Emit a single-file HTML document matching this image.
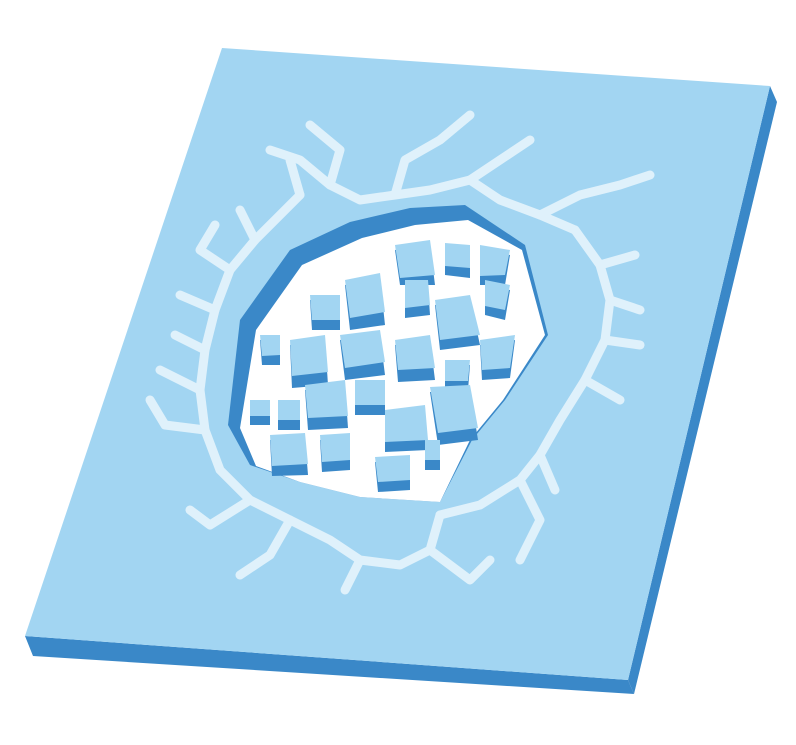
<!DOCTYPE html>
<html><head><meta charset="utf-8"><style>
html,body{margin:0;padding:0;background:#fff;width:796px;height:745px;overflow:hidden}
</style></head><body>
<svg width="796" height="745" viewBox="0 0 796 745">
<g>
  <polygon points="770,86 777,102 634,694 628,680" fill="#3a88c8"/>
  <polygon points="25,636 33,656 634,694 628,680" fill="#3a88c8"/>
  <polygon points="222,48 770,86 628,680 25,636" fill="#a2d5f2"/>
</g>
<g fill="none" stroke="#dff1fb" stroke-width="9" stroke-linecap="round" stroke-linejoin="round">
  <polyline points="270,150 300,160 330,185 360,200 395,195 430,190 470,180 500,200 540,215 575,230"/>
  <polyline points="330,185 340,150 310,125"/>
  <polyline points="395,195 405,160 440,140 470,115"/>
  <polyline points="470,180 500,160 530,140"/>
  <polyline points="540,215 580,195 620,185 650,175"/>
  <polyline points="575,230 600,265 610,300 605,340 585,380 560,420 540,455 520,480 480,505 440,515"/>
  <polyline points="600,265 635,255"/>
  <polyline points="610,300 640,310"/>
  <polyline points="605,340 640,345"/>
  <polyline points="585,380 620,400"/>
  <polyline points="540,455 555,490"/>
  <polyline points="520,480 540,520 520,560"/>
  <polyline points="440,515 430,550 400,565 360,560 330,540 290,520 250,500 220,470 205,430 200,390 205,350 215,310 230,270 255,240 280,215 300,195"/>
  <polyline points="360,560 345,590"/>
  <polyline points="430,550 470,580 490,560"/>
  <polyline points="290,520 270,555 240,575"/>
  <polyline points="250,500 210,525 190,510"/>
  <polyline points="205,430 165,425 150,400"/>
  <polyline points="200,390 160,370"/>
  <polyline points="205,350 175,335"/>
  <polyline points="215,310 180,295"/>
  <polyline points="230,270 200,250 215,225"/>
  <polyline points="255,240 240,210"/>
  <polyline points="300,195 290,160"/>
</g>
<g>
  <polygon points="228,425 240,320 290,250 350,222 410,208 465,205 525,245 548,335 505,400 472,440 440,502 360,497 300,482 250,465" fill="#3a88c8"/>
  <polygon points="240,428 256,330 302,265 362,238 415,225 468,220 522,250 545,335 503,400 470,440 440,502 360,497 300,482 256,466" fill="#ffffff"/>
</g>
<g>
  <g fill="#3a88c8">
    <polygon points="395,250 430,245 435,285 400,285"/><polygon points="445,248 470,250 470,278 445,275"/>
    <polygon points="480,250 510,255 505,285 480,285"/><polygon points="345,285 380,278 385,325 350,330"/>
    <polygon points="405,285 428,285 430,315 405,318"/><polygon points="485,285 510,290 505,320 485,315"/>
    <polygon points="310,300 340,300 340,330 312,330"/><polygon points="435,305 470,300 480,345 440,350"/>
    <polygon points="290,345 325,340 328,385 292,388"/><polygon points="340,340 380,335 385,375 345,380"/>
    <polygon points="395,345 430,340 435,380 398,382"/><polygon points="480,345 515,340 510,378 482,380"/>
    <polygon points="260,340 280,340 280,365 262,365"/><polygon points="445,365 470,365 468,390 445,390"/>
    <polygon points="305,390 345,385 348,428 308,430"/><polygon points="355,385 385,385 385,415 355,415"/>
    <polygon points="430,392 470,390 478,440 438,445"/><polygon points="250,405 270,405 270,425 250,425"/>
    <polygon points="278,405 300,405 300,430 278,430"/><polygon points="385,415 425,410 428,450 385,452"/>
    <polygon points="270,440 305,438 308,475 272,476"/><polygon points="320,440 350,438 350,470 322,472"/>
    <polygon points="375,462 410,460 410,490 378,492"/><polygon points="425,445 440,445 440,470 425,470"/>
  </g>
  <g fill="#a2d5f2">
    <polygon points="395,245 430,240 435,275 400,278"/><polygon points="445,243 470,245 470,268 445,266"/>
    <polygon points="480,245 510,250 505,275 480,276"/><polygon points="345,280 380,273 385,312 350,318"/>
    <polygon points="405,280 428,280 430,305 405,308"/><polygon points="485,280 510,285 505,310 485,306"/>
    <polygon points="310,295 340,295 340,320 312,320"/><polygon points="435,300 470,295 480,335 440,340"/>
    <polygon points="290,340 325,335 328,372 292,376"/><polygon points="340,335 380,330 385,362 345,368"/>
    <polygon points="395,340 430,335 435,368 398,370"/><polygon points="480,340 515,335 510,368 482,370"/>
    <polygon points="260,335 280,335 280,355 262,356"/><polygon points="445,360 470,360 468,381 445,381"/>
    <polygon points="305,385 345,380 348,416 308,418"/><polygon points="355,380 385,380 385,405 355,405"/>
    <polygon points="430,387 470,385 478,428 438,433"/><polygon points="250,400 270,400 270,416 250,416"/>
    <polygon points="278,400 300,400 300,420 278,420"/><polygon points="385,410 425,405 428,440 385,442"/>
    <polygon points="270,435 305,433 308,464 272,466"/><polygon points="320,435 350,433 350,460 322,462"/>
    <polygon points="375,457 410,455 410,480 378,482"/><polygon points="425,440 440,440 440,460 425,460"/>
  </g>
</g>
</svg>
</body></html>
